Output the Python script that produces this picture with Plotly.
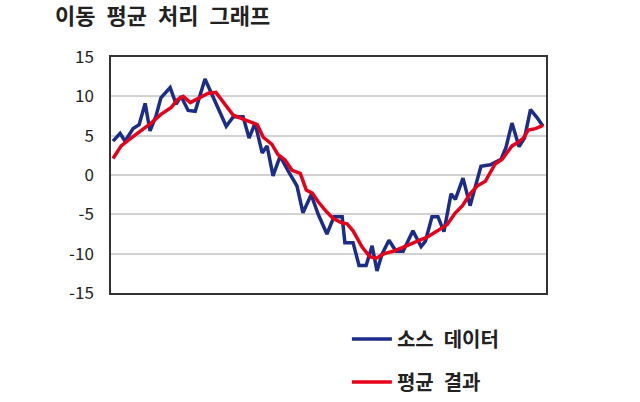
import plotly.graph_objects as go

# Source data (x in sample index, y values)
src_x = [0, 1.3, 2.2, 3.7, 4.8, 5.9, 6.8, 7.9, 8.8, 10.5, 11.6, 12.5, 13.8, 15.1, 16.9,
         20.8, 22.1, 23.9, 25.0, 26.1, 27.4, 28.3, 29.4, 30.7, 32.2, 33.8, 34.9, 36.4,
         37.7, 39.3, 40.6, 42.1, 42.6, 44.1, 45.2, 46.5, 47.6, 48.5, 49.4, 50.7, 52.0,
         53.3, 55.1, 56.6, 57.4, 58.6, 59.7, 60.8, 62.1, 62.9, 64.3, 65.6, 67.6, 69.3,
         71.3, 72.2, 73.3, 74.6, 75.6, 76.7, 77.9, 79.0]
src_y = [4.3, 5.3, 4.3, 5.9, 6.4, 9.1, 5.6, 7.5, 9.8, 11.1, 9.0, 10.0, 8.2, 8.1, 12.2,
         6.2, 7.4, 7.4, 4.7, 6.6, 2.8, 3.7, -0.1, 2.4, 0.5, -1.4, -4.8, -2.5,
         -5.0, -7.5, -5.3, -5.3, -8.6, -8.6, -11.5, -11.5, -9.0, -12.2, -10.1, -8.3, -9.7,
         -9.7, -7.1, -9.1, -8.4, -5.3, -5.3, -7.2, -2.4, -3.1, -0.4, -3.9, 1.1, 1.3,
         2.0, 3.5, 6.6, 3.6, 4.7, 8.3, 7.3, 6.2]

avg_x = [0, 1.5, 3.3, 5.1, 7.0, 8.8, 10.7, 11.9, 12.9, 14.2, 16.0, 17.5, 18.9, 22.1,
         23.9, 25.2, 26.5, 27.6, 29.2, 30.3, 31.6, 32.9, 34.4, 35.5, 36.6, 37.7, 39.0,
         40.4, 42.1, 43.0, 44.1, 45.8, 47.2, 48.3, 49.8, 51.5, 52.8, 54.0, 55.1, 56.4,
         57.7, 59.6, 61.4, 62.9, 64.2, 65.6, 66.9, 68.4, 69.3, 70.2, 71.5, 72.4, 73.3,
         74.3, 75.4, 76.3, 77.6, 79.0]
avg_y = [2.1, 3.7, 4.7, 5.6, 6.6, 7.7, 8.6, 9.6, 10.0, 9.2, 9.8, 10.4, 10.5, 7.6,
         7.1, 6.8, 6.4, 4.8, 3.9, 2.6, 1.9, 0.6, 0.2, -1.9, -2.3, -3.4, -4.5,
         -5.5, -6.1, -6.2, -7.1, -9.2, -10.4, -10.6, -10.0, -9.7, -9.3, -9.0, -8.6, -8.2,
         -7.9, -7.1, -6.3, -4.8, -3.9, -2.4, -1.4, -0.8, 0.4, 1.4, 2.0, 2.8, 3.7,
         4.1, 4.7, 5.7, 5.9, 6.3]

y_ticks = [-15, -10, -5, 0, 5, 10, 15]
y_tick_labels = ["-15", "-10", "-5", "0", "5", "10", "15"]

FONT = "Noto Sans CJK KR"
SP = "\u2002"

fig = go.Figure()
fig.add_trace(go.Scatter(x=src_x, y=src_y, mode="lines", name="<b>소스" + SP + "데이터</b>",
                         legendgroup="a",
                         line=dict(color="#1b2d86", width=3.5)))
fig.add_trace(go.Scatter(x=avg_x, y=avg_y, mode="lines", name="<b>평균" + SP + "결과</b>",
                         legendgroup="b",
                         line=dict(color="#e8001a", width=3.5)))

fig.update_layout(
    width=640, height=402,
    margin=dict(l=111, r=94, t=57, b=109, autoexpand=False),
    paper_bgcolor="white", plot_bgcolor="white",
    font=dict(family=FONT, color="#222222", size=17),
    title=dict(text="<b>이동" + SP + "평균" + SP + "처리" + SP + "그래프</b>",
               x=0.086, xanchor="left", yref="container",
               y=0.96, yanchor="middle", font=dict(size=22, family=FONT, color="#222")),
    showlegend=True,
    legend=dict(xref="container", yref="container", x=0.542, y=0.205,
                xanchor="left", yanchor="top",
                tracegroupgap=14, traceorder="grouped",
                font=dict(size=20, family=FONT, color="#222"),
                bgcolor="rgba(0,0,0,0)", itemwidth=40),
    xaxis=dict(range=[-0.37, 79.55], showticklabels=False, showgrid=False,
               zeroline=False, showline=True, mirror=True,
               linecolor="#333333", linewidth=1.5, ticks=""),
    yaxis=dict(range=[-15, 15], tickvals=y_ticks, ticktext=y_tick_labels,
               showgrid=True, gridcolor="#d2d2d2", gridwidth=1.5, zeroline=False,
               showline=True, mirror=True, linecolor="#333333", linewidth=1.5,
               ticks="", ticklabelstandoff=12,
               tickfont=dict(size=17, family=FONT, color="#222")),
)

fig.write_html("out.html")
